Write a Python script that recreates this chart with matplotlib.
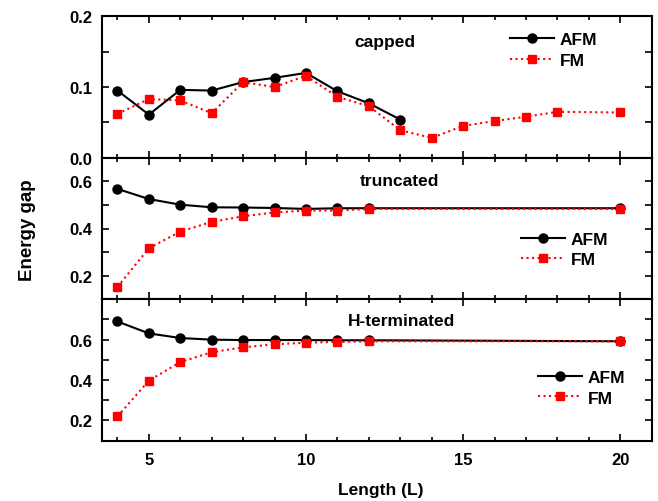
import matplotlib
matplotlib.use("Agg")
import matplotlib.pyplot as plt
from matplotlib.ticker import MultipleLocator, FixedLocator, FormatStrFormatter

plt.rcParams['font.family'] = ['Liberation Sans', 'DejaVu Sans']
plt.rcParams['font.weight'] = 'bold'

# capped
cap_afm_x = [4, 5, 6, 7, 8, 9, 10, 11, 12, 13]
cap_afm_y = [0.095, 0.061, 0.096, 0.095, 0.107, 0.113, 0.120, 0.094, 0.077, 0.054]
cap_fm_x = [4, 5, 6, 7, 8, 9, 10, 11, 12, 13, 14, 15, 16, 17, 18, 20]
cap_fm_y = [0.062, 0.083, 0.081, 0.063, 0.107, 0.100, 0.116, 0.086, 0.073, 0.039,
            0.028, 0.045, 0.052, 0.058, 0.065, 0.064]

# truncated
tr_x = [4, 5, 6, 7, 8, 9, 10, 11, 12, 20]
tr_afm_y = [0.568, 0.525, 0.501, 0.490, 0.489, 0.487, 0.483, 0.486, 0.486, 0.486]
tr_fm_y = [0.152, 0.316, 0.387, 0.428, 0.452, 0.468, 0.476, 0.476, 0.483, 0.483]

# H-terminated
h_x = [4, 5, 6, 7, 8, 9, 10, 11, 12, 20]
h_afm_y = [0.690, 0.631, 0.608, 0.600, 0.598, 0.598, 0.598, 0.597, 0.597, 0.592]
h_fm_y = [0.220, 0.397, 0.489, 0.538, 0.562, 0.577, 0.585, 0.589, 0.592, 0.592]

panel_names = ["capped", "truncated", "H-terminated"]
y_major = [[0.0, 0.1, 0.2], [0.2, 0.4, 0.6], [0.2, 0.4, 0.6]]
y_minor = [[0.05, 0.15], [0.1, 0.3, 0.5, 0.7], [0.1, 0.3, 0.5, 0.7]]
ylims = [(0, 0.2), (0.1, 0.7), (0.1, 0.8)]

tick_fs = 12
txt_fs = 12.5

fig = plt.figure(figsize=(6.58, 5.02), dpi=100)
left, right = 101.7 / 658, 651.7 / 658
top_px, bot_px = 17.3, 441.7
h = (bot_px - top_px) / 3
axes = []
for i in range(3):
    y0 = 1 - (top_px + (i + 1) * h) / 502
    ax = fig.add_axes([left, y0, right - left, h / 502])
    axes.append(ax)

data = [
    (cap_afm_x, cap_afm_y, cap_fm_x, cap_fm_y),
    (tr_x, tr_afm_y, tr_x, tr_fm_y),
    (h_x, h_afm_y, h_x, h_fm_y),
]
label_pos = [(0.515, 0.825), (0.542, 0.838), (0.545, 0.847)]
leg_pos = [(0.7424, 0.762), (0.7624, 0.350), (0.7933, 0.374)]

for i, ax in enumerate(axes):
    ax1x, ay, fx, fy = data[i]
    ax.plot(ax1x, ay, color='black', lw=1.5, marker='o', ms=6.5, label='AFM', zorder=3)
    ax.plot(fx, fy, color='red', lw=1.5, ls=':', marker='s', ms=6, label='FM', zorder=4)
    ax.set_xlim(3.5, 21)
    ax.set_ylim(*ylims[i])
    ax.xaxis.set_major_locator(MultipleLocator(5))
    ax.xaxis.set_minor_locator(MultipleLocator(1))
    ax.yaxis.set_major_locator(FixedLocator(y_major[i]))
    ax.yaxis.set_minor_locator(FixedLocator(y_minor[i]))
    ax.yaxis.set_major_formatter(FormatStrFormatter('%.1f'))
    ax.tick_params(which='both', direction='in', top=True, right=True, width=1.2,
                   labelsize=tick_fs)
    ax.tick_params(which='major', length=5)
    ax.tick_params(which='minor', length=3)
    ax.tick_params(axis='y', which='both', length=5, pad=6.5)
    ax.tick_params(axis='x', pad=8)
    for sp in ax.spines.values():
        sp.set_linewidth(1.5)
    for lab in ax.get_yticklabels():
        lab.set_fontweight('bold')
    if i < 2:
        ax.tick_params(labelbottom=False)
    else:
        ax.xaxis.set_major_formatter(FormatStrFormatter('%d'))
        for lab in ax.get_xticklabels():
            lab.set_fontweight('bold')
    ax.text(label_pos[i][0], label_pos[i][1], panel_names[i], transform=ax.transAxes,
            ha='center', va='center', fontsize=txt_fs, fontweight='bold')
    ax.legend(loc='center left', bbox_to_anchor=leg_pos[i], frameon=False,
              prop={'size': txt_fs, 'weight': 'bold'}, handlelength=2.53,
              handletextpad=0.35, borderpad=0, borderaxespad=0, labelspacing=0.3)

fig.text(381 / 658, 1 - 491 / 502, "Length (L)", ha='center', va='center',
         fontsize=txt_fs, fontweight='bold')
fig.text(27 / 658, 1 - 230 / 502, "Energy gap", rotation=90,
         ha='center', va='center', fontsize=13.5, fontweight='bold')

fig.savefig("out.png", dpi=100)
